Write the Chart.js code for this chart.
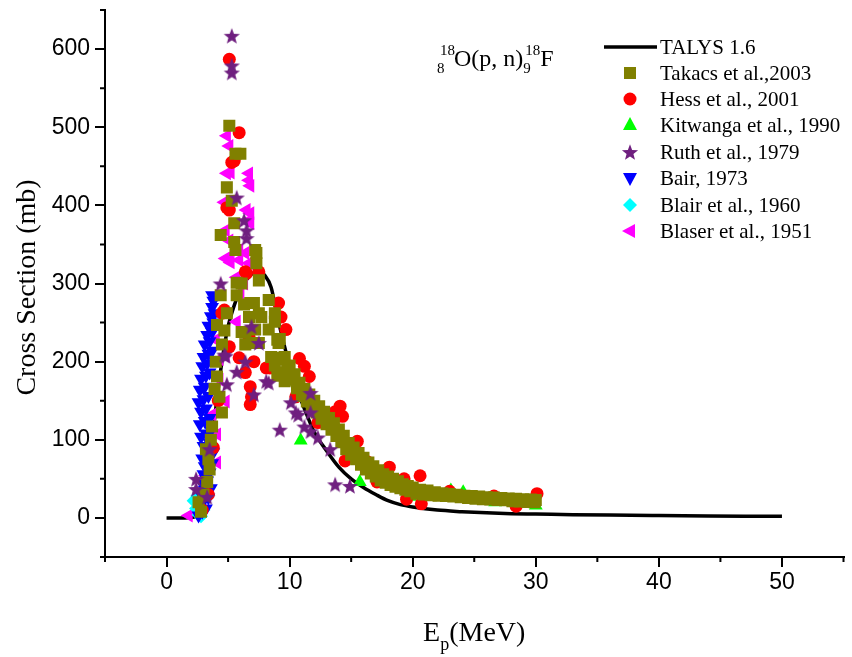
<!DOCTYPE html>
<html>
<head>
<meta charset="utf-8">
<script src="https://cdn.jsdelivr.net/npm/chart.js@4.4.0/dist/chart.umd.min.js"></script>
<style>
  html, body { margin: 0; padding: 0; background: #fff; }
</style>
</head>
<body>
<canvas id="xs-chart" width="852" height="657"></canvas>
<script>
// ---- data (E in MeV, cross section in mb) ----
const talysE = [0, 0.5, 1, 1.5, 2, 2.5, 3, 3.5, 4, 4.5, 5, 5.5, 6, 6.5, 7, 7.5, 8, 8.5, 9, 9.5, 10, 10.5, 11, 11.5, 12, 13, 14, 15, 16, 17, 18, 19, 20, 22, 24, 26, 28, 30, 33, 36, 40, 44, 47, 50];
const talysS = [0, 0, 0, 0, 0.5, 3, 20, 70, 140, 200, 245, 272, 292, 305, 313, 315, 310, 295, 258, 225, 195, 170, 148, 128, 110, 86, 65, 50, 39, 30, 22, 17, 14, 10, 8, 6.5, 5.5, 5, 4.2, 3.6, 3, 2.5, 2.2, 2];

// scattered low-energy points
const takacsLow = [
  [2.6, 20], [2.8, 8], [3.0, 30], [3.3, 46], [3.5, 62], [3.4, 75], [3.2, 88], [3.6, 100], [3.7, 117], [4.5, 135], [4.3, 155],
  [3.9, 165], [4.1, 181], [4.0, 200], [4.5, 222], [4.7, 240], [4.1, 247], [4.9, 262], [4.4, 285], [5.7, 285], [6.1, 300],
  [6.8, 275], [6.4, 237], [6.9, 224], [7.5, 262], [5.1, 502], [5.6, 466], [6.0, 466], [4.9, 423], [5.3, 406], [5.5, 377],
  [4.4, 362], [5.5, 353], [5.6, 343], [7.2, 343], [7.3, 326], [7.3, 339], [7.5, 304], [5.7, 301], [6.3, 273], [7.1, 275],
  [8.3, 279], [6.7, 257], [7.7, 257], [8.8, 262], [6.1, 238], [7.2, 241], [8.3, 241], [6.4, 222], [7.5, 224], [9.1, 224],
  [8.5, 206], [9.3, 203], [9.5, 186], [9.6, 175], [8.8, 195], [9.0, 182]
];
// dense band above 9 MeV
const takacsBand = [
  [8.8, 251], [9.0, 228], [9.2, 229], [9.4, 205], [9.6, 206], [9.8, 188], [10.0, 195], [10.2, 177], [10.4, 184], [10.6, 166],
  [10.8, 173], [11.0, 156], [11.2, 165], [11.4, 149], [11.6, 158], [11.8, 142], [12.0, 150], [12.2, 135], [12.4, 143],
  [12.6, 127], [12.8, 136], [13.0, 120], [13.2, 128], [13.4, 113], [13.6, 121], [13.8, 105], [14.0, 113], [14.2, 97],
  [14.4, 105], [14.6, 88], [14.8, 96], [15.0, 81], [15.2, 90], [15.4, 75], [15.6, 83], [15.8, 68], [16.0, 77], [16.2, 62],
  [16.4, 71], [16.6, 57], [16.8, 66], [17.0, 53], [17.2, 61], [17.4, 48], [17.6, 56], [17.8, 45], [18.0, 53], [18.2, 42],
  [18.4, 50], [18.6, 40], [18.8, 47], [19.0, 38], [19.2, 43], [19.4, 36], [19.6, 41], [19.8, 34], [20.0, 39], [20.3, 31],
  [20.6, 36], [20.9, 30], [21.2, 35], [21.5, 29], [21.8, 33], [22.1, 28.5], [22.4, 31.5], [22.7, 28], [23.0, 30.5],
  [23.3, 27.5], [23.6, 29.5], [23.9, 26.5], [24.2, 28.5], [24.5, 25.5], [24.8, 28], [25.1, 24.5], [25.4, 27.5], [25.7, 24],
  [26.0, 26.5], [26.3, 23.5], [26.6, 26], [26.9, 23], [27.2, 25.5], [27.5, 22.5], [27.8, 25], [28.1, 21.5], [28.4, 24.5],
  [28.7, 21], [29.0, 24], [29.3, 20.5], [29.6, 23.5], [29.9, 20], [30.0, 23]
];

const hess = [
  [2.9, 10], [3.4, 30], [3.8, 90], [4.2, 150], [5.1, 587], [5.9, 493], [5.3, 455], [5.5, 457], [5.1, 394], [4.9, 397],
  [6.5, 313], [7.5, 315], [6.4, 315], [4.7, 266], [4.5, 262], [9.1, 275], [9.3, 257], [9.7, 241], [5.1, 219], [5.9, 205],
  [7.1, 200], [8.1, 192], [8.4, 192], [6.4, 186], [6.8, 168], [6.8, 145], [6.9, 155], [6.7, 232], [10.8, 204], [11.2, 194],
  [11.6, 181], [10.5, 155], [14.1, 143], [14.3, 130], [13.7, 136], [12.3, 122], [15.5, 98], [14.5, 73], [16.3, 72],
  [18.1, 65], [17.4, 58], [20.6, 54], [19.3, 50], [17.1, 46], [19.5, 24], [20.7, 18], [23.0, 34], [26.6, 28], [28.4, 15],
  [30.1, 31]
];

const kitwanga = [[10.9, 99], [15.7, 46], [19.8, 27], [21.7, 30], [23.1, 35], [24.1, 33], [26.7, 20], [29.8, 20], [30.0, 16]];

const ruth = [
  [5.3, 617], [5.3, 579], [5.3, 570], [5.7, 410], [6.3, 381], [6.5, 368], [6.5, 358], [4.4, 300], [6.9, 245], [7.5, 224],
  [6.4, 200], [5.7, 187], [4.7, 209], [4.9, 171], [8.1, 175], [7.1, 158], [10.1, 148], [10.5, 135], [9.2, 113], [3.5, 88],
  [2.4, 50], [2.4, 37], [3.3, 27], [11.7, 160], [10.7, 132], [11.7, 135], [11.2, 117], [11.7, 111], [12.3, 103], [13.3, 88],
  [13.7, 43], [14.9, 41], [8.3, 173], [4.8, 207]
];

const bair = [
  [2.6, 3], [2.9, 8], [3.2, 12], [2.7, 18], [3.0, 22], [3.4, 26], [2.8, 30], [3.1, 36], [3.6, 38], [2.9, 44], [3.3, 48],
  [3.0, 56], [3.5, 58], [3.1, 66], [3.7, 70], [2.9, 76], [3.3, 80], [3.8, 84], [3.0, 92], [3.5, 96], [2.8, 104], [3.2, 108],
  [3.6, 112], [2.7, 120], [3.1, 124], [3.5, 128], [2.8, 136], [3.2, 140], [2.6, 148], [3.0, 152], [3.4, 156], [2.7, 164],
  [3.1, 168], [2.8, 178], [3.2, 182], [3.5, 186], [2.9, 194], [3.3, 198], [3.0, 206], [3.4, 210], [3.7, 214], [3.1, 222],
  [3.5, 226], [3.3, 234], [3.7, 238], [3.4, 246], [3.8, 250], [3.6, 258], [3.9, 262], [3.7, 270], [3.8, 278], [3.7, 285]
];

const blair = [[2.2, 22], [2.4, 12], [2.6, 4], [2.8, 2], [3.0, 10], [2.5, 28]];

const blaser = [
  [4.9, 489], [5.1, 476], [4.9, 441], [5.2, 442], [6.7, 441], [6.7, 432], [6.8, 425], [4.7, 404], [4.9, 404], [6.5, 394],
  [6.8, 390], [6.7, 381], [6.8, 377], [4.8, 368], [5.1, 355], [5.9, 343], [6.4, 339], [5.1, 334], [4.8, 332], [5.9, 330],
  [5.2, 327], [6.7, 326], [5.7, 308], [6.3, 300], [5.9, 300], [6.0, 288], [5.7, 251], [4.0, 228], [4.8, 207], [4.3, 203],
  [4.3, 177], [4.8, 149], [3.7, 132], [4.1, 107], [3.7, 88], [4.1, 71], [3.2, 54], [2.4, 8], [1.8, 3], [2.9, 20], [3.4, 35]
];

const xTicks = [0, 10, 20, 30, 40, 50];
const yTicks = [0, 100, 200, 300, 400, 500, 600];
const xMinor = [-5, 5, 15, 25, 35, 45, 55];
const yMinor = [-50, 50, 150, 250, 350, 450, 550, 650];

const legendNames = ['TALYS 1.6', 'Takacs et al.,2003', 'Hess et al., 2001', 'Kitwanga et al., 1990',
  'Ruth et al., 1979', 'Bair, 1973', 'Blair et al., 1960', 'Blaser et al., 1951'];

// ---- styles ----
const OLIVE = '#808000', RED = '#ff0000', GREEN = '#00ff00', PURPLE = '#6f1f7f',
  BLUE = '#0000ff', CYAN = '#00ffff', MAGENTA = '#ff00ff';
const SERIF = '"Liberation Serif", "Times New Roman", serif';
const SANS = '"Liberation Sans", Arial, sans-serif';

const starPath = (g, cx, cy, R, r) => {
  g.beginPath();
  for (let i = 0; i < 10; i++) {
    const rad = i % 2 ? r : R;
    const a = -Math.PI / 2 + i * Math.PI / 5;
    g.lineTo(cx + rad * Math.cos(a), cy + rad * Math.sin(a));
  }
  g.closePath();
};

const starImg = (() => {
  const c = document.createElement('canvas');
  c.width = 18; c.height = 18;
  const g = c.getContext('2d');
  g.fillStyle = PURPLE;
  starPath(g, 9, 9.8, 8.5, 3.6);
  g.fill();
  return c;
})();

const toXY = arr => arr.map(p => ({ x: p[0], y: p[1] }));

const marker = (label, data, color, style, radius, rotation, order) => ({
  label, data: toXY(data), pointStyle: style, pointRadius: radius, pointRotation: rotation || 0,
  pointBackgroundColor: color, pointBorderColor: color, pointBorderWidth: 0, showLine: false, order
});

// legend marks drawn by hand
const drawMark = (ctx, kind, x, y) => {
  ctx.save();
  ctx.beginPath();
  if (kind === 'rect') { ctx.fillStyle = OLIVE; ctx.fillRect(x - 6, y - 6, 12, 12); }
  else if (kind === 'circle') { ctx.fillStyle = RED; ctx.arc(x, y, 6.5, 0, Math.PI * 2); ctx.fill(); }
  else if (kind === 'up') { ctx.fillStyle = GREEN; ctx.moveTo(x, y - 8); ctx.lineTo(x + 7, y + 5); ctx.lineTo(x - 7, y + 5); ctx.fill(); }
  else if (kind === 'star') { ctx.fillStyle = PURPLE; starPath(ctx, x, y + 0.8, 8.5, 3.6); ctx.fill(); }
  else if (kind === 'down') { ctx.fillStyle = BLUE; ctx.moveTo(x, y + 8); ctx.lineTo(x + 7, y - 5); ctx.lineTo(x - 7, y - 5); ctx.fill(); }
  else if (kind === 'diamond') { ctx.fillStyle = CYAN; ctx.moveTo(x, y - 7); ctx.lineTo(x + 7, y); ctx.lineTo(x, y + 7); ctx.lineTo(x - 7, y); ctx.fill(); }
  else if (kind === 'left') { ctx.fillStyle = MAGENTA; ctx.moveTo(x - 8, y); ctx.lineTo(x + 5, y - 7); ctx.lineTo(x + 5, y + 7); ctx.fill(); }
  ctx.restore();
};

const decor = {
  id: 'decor',
  afterDraw(chart) {
    const { ctx, scales: { x, y }, chartArea: a } = chart;
    ctx.save();
    // minor ticks
    ctx.strokeStyle = '#000';
    ctx.lineWidth = 2;
    ctx.beginPath();
    yMinor.forEach(v => { const py = y.getPixelForValue(v); ctx.moveTo(a.left, py); ctx.lineTo(a.left - 5, py); });
    xMinor.forEach(v => { const px = x.getPixelForValue(v); ctx.moveTo(px, a.bottom); ctx.lineTo(px, a.bottom + 5); });
    ctx.stroke();

    ctx.fillStyle = '#000';
    ctx.textBaseline = 'alphabetic';
    // reaction label
    let px = 437;
    ctx.font = '15px ' + SERIF;
    ctx.fillText('18', px + 3, 55);
    ctx.fillText('8', px, 73);
    px += 17;
    ctx.font = '24px ' + SERIF;
    ctx.fillText('O(p, n)', px, 66);
    px += ctx.measureText('O(p, n)').width;
    ctx.font = '15px ' + SERIF;
    ctx.fillText('9', px, 73);
    ctx.fillText('18', px + 2, 55);
    px += ctx.measureText('18').width + 2;
    ctx.font = '24px ' + SERIF;
    ctx.fillText('F', px, 66);

    // x title
    ctx.font = '28px ' + SERIF;
    const wE = ctx.measureText('E').width, wM = ctx.measureText('(MeV)').width;
    ctx.font = '18px ' + SERIF;
    const wp = ctx.measureText('p').width;
    let tx = (a.left + a.right) / 2 - (wE + wp + wM) / 2;
    ctx.font = '28px ' + SERIF;
    ctx.fillText('E', tx, 641);
    ctx.font = '18px ' + SERIF;
    ctx.fillText('p', tx + wE, 650);
    ctx.font = '28px ' + SERIF;
    ctx.fillText('(MeV)', tx + wE + wp, 641);

    // y title
    ctx.save();
    ctx.translate(35, (a.top + a.bottom) / 2 + 4);
    ctx.rotate(-Math.PI / 2);
    ctx.textAlign = 'center';
    ctx.font = '28px ' + SERIF;
    ctx.fillText('Cross Section (mb)', 0, 0);
    ctx.restore();

    // legend
    const rowY = [47, 73, 99, 125, 152, 178, 205, 231];
    const kinds = ['line', 'rect', 'circle', 'up', 'star', 'down', 'diamond', 'left'];
    ctx.font = '21px ' + SERIF;
    ctx.textBaseline = 'middle';
    legendNames.forEach((name, i) => {
      const ly = rowY[i];
      if (kinds[i] === 'line') {
        ctx.beginPath();
        ctx.lineWidth = 3.5;
        ctx.strokeStyle = '#000';
        ctx.moveTo(604, ly); ctx.lineTo(657, ly);
        ctx.stroke();
      } else {
        drawMark(ctx, kinds[i], 630, ly);
      }
      ctx.fillStyle = '#000';
      ctx.fillText(name, 660, ly + 1);
    });
    ctx.restore();
  }
};

const axisCommon = {
  type: 'linear',
  grid: { drawOnChartArea: false, drawTicks: true, tickLength: 10, color: '#000', lineWidth: 2 },
  border: { display: true, color: '#000', width: 2 },
  ticks: { color: '#000', font: { family: SANS, size: 23 }, maxRotation: 0 }
};

const zeroPad = s => { s.paddingTop = 0; s.paddingBottom = 0; s.paddingLeft = 0; s.paddingRight = 0; };

const crossSectionChart = () => {
  const option = {
    type: 'scatter',
    data: {
      datasets: [
        {
          label: 'TALYS 1.6', data: talysE.map((e, i) => ({ x: e, y: talysS[i] })), showLine: true,
          borderColor: '#000', borderWidth: 3.5, pointRadius: 0, cubicInterpolationMode: 'monotone', order: 9
        },
        marker('Takacs et al.,2003', takacsLow.concat(takacsBand), OLIVE, 'rect', 8.5, 0, 2),
        marker('Hess et al., 2001', hess, RED, 'circle', 6.5, 0, 4),
        marker('Kitwanga et al., 1990', kitwanga, GREEN, 'triangle', 8, 0, 5),
        marker('Ruth et al., 1979', ruth, PURPLE, starImg, 8, 0, 1),
        marker('Bair, 1973', bair, BLUE, 'triangle', 8, 180, 6),
        marker('Blair et al., 1960', blair, CYAN, 'rectRot', 7, 0, 7),
        marker('Blaser et al., 1951', blaser, MAGENTA, 'triangle', 8, -90, 8)
      ]
    },
    options: {
      responsive: false,
      animation: false,
      layout: { padding: { top: 10, right: 0, bottom: 0, left: 0 } },
      plugins: { legend: { display: false }, tooltip: { enabled: false } },
      scales: {
        x: {
          ...axisCommon, min: -5, max: 55,
          ticks: { ...axisCommon.ticks, padding: 2 },
          afterBuildTicks: s => { s.ticks = xTicks.map(v => ({ value: v })); },
          afterFit: s => { s.height = 100; zeroPad(s); }
        },
        y: {
          ...axisCommon, min: -50, max: 650,
          ticks: { ...axisCommon.ticks, padding: 5 },
          afterBuildTicks: s => { s.ticks = yTicks.map(v => ({ value: v })); },
          afterFit: s => { s.width = 105; zeroPad(s); }
        }
      }
    },
    plugins: [decor]
  };
  new Chart(document.getElementById('xs-chart'), option);
};

crossSectionChart();
</script>
</body>
</html>
